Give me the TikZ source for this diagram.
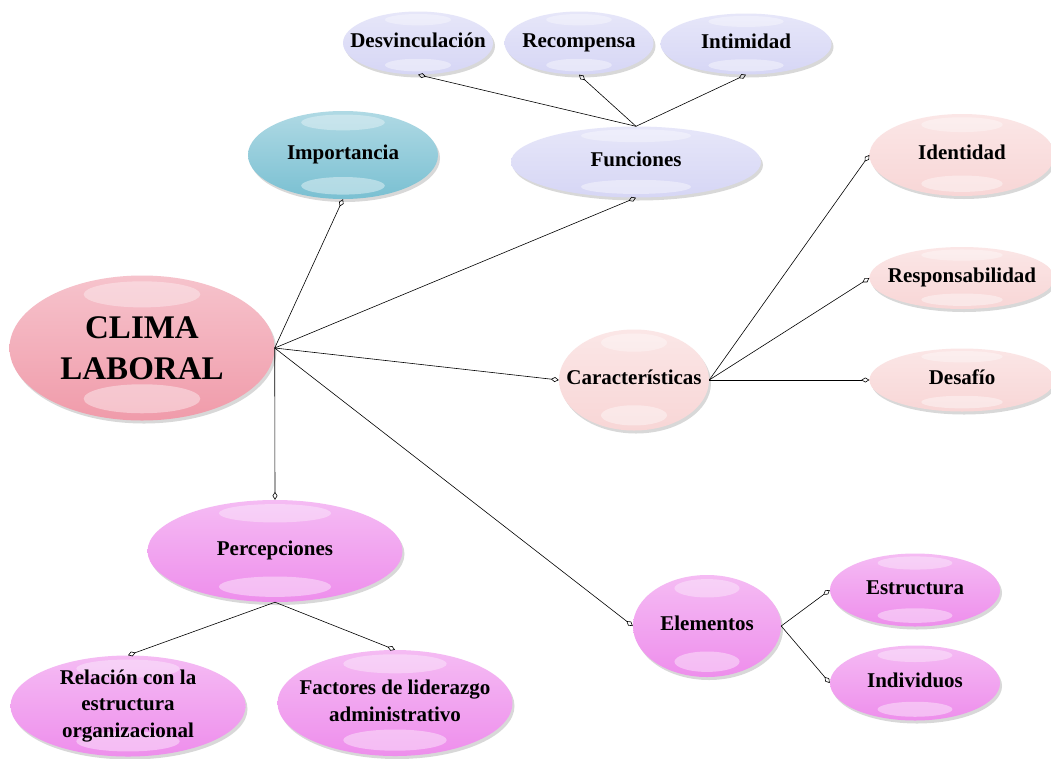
\documentclass[tikz,border=0pt]{standalone}
\usepackage{fontspec}
\setmainfont{Liberation Serif}
\usetikzlibrary{shapes.geometric,shadows,calc,arrows.meta}

\definecolor{climapink}{RGB}{240,155,170}
\definecolor{tealblue}{RGB}{122,192,210}
\definecolor{lavender}{RGB}{214,214,245}
\definecolor{palepink}{RGB}{248,214,214}
\definecolor{orchid}{RGB}{238,142,236}

\tikzset{
  bubble/.style={ellipse, inner sep=0pt, top color=#1!60!white, bottom color=#1,
    drop shadow={shadow xshift=2pt, shadow yshift=-3pt, opacity=.3},
    path picture={
      \fill[white,opacity=.35] let \p1=(path picture bounding box.south west),
        \p2=(path picture bounding box.north east) in
        ({(\x1+\x2)/2},{\y2-0.13*(\y2-\y1)}) ellipse ({0.22*(\x2-\x1)} and {0.09*(\y2-\y1)});
      \fill[white,opacity=.4] let \p1=(path picture bounding box.south west),
        \p2=(path picture bounding box.north east) in
        ({(\x1+\x2)/2},{\y1+0.15*(\y2-\y1)}) ellipse ({0.22*(\x2-\x1)} and {0.1*(\y2-\y1)});
    }},
  txt/.style={font=\fontsize{21}{26.5}\selectfont\bfseries, align=center, text depth=5pt},
  bigtxt/.style={font=\fontsize{33}{41}\selectfont\bfseries, align=center},
  link/.style={line width=.6pt, -{Diamond[open,length=8pt,width=5pt]}}
}

\begin{document}
\begin{tikzpicture}[x=1pt,y=-1pt]
  \useasboundingbox[fill=white] (0,0) rectangle (1051,758);

  % centre
  \node[bubble=climapink, minimum width=265pt, minimum height=145pt,
    label={[bigtxt]center:CLIMA\\LABORAL}] (clima) at (142,348) {};

  % importancia
  \node[bubble=tealblue, minimum width=190pt, minimum height=88pt,
    label={[txt]center:Importancia}] (imp) at (343,155) {};

  % funciones
  \node[bubble=lavender, minimum width=250pt, minimum height=71pt,
    label={[txt]center:Funciones}] (func) at (636,162) {};
  \node[bubble=lavender, minimum width=150pt, minimum height=63pt,
    label={[txt]center:Desvinculación}] (desv) at (418,43) {};
  \node[bubble=lavender, minimum width=149pt, minimum height=63pt,
    label={[txt]center:Recompensa}] (recomp) at (579,43) {};
  \node[bubble=lavender, minimum width=171pt, minimum height=61pt,
    label={[txt]center:Intimidad}] (intim) at (746,44) {};

  % caracteristicas
  \node[bubble=palepink, minimum width=150pt, minimum height=101pt,
    label={[txt]center:Características}] (caract) at (634,380) {};
  \node[bubble=palepink, minimum width=185pt, minimum height=82pt,
    label={[txt]center:Identidad}] (ident) at (962,155) {};
  \node[bubble=palepink, minimum width=185pt, minimum height=62pt,
    label={[txt]center:Responsabilidad}] (resp) at (962,278) {};
  \node[bubble=palepink, minimum width=185pt, minimum height=63pt,
    label={[txt]center:Desafío}] (desaf) at (962,380) {};

  % percepciones
  \node[bubble=orchid, minimum width=255pt, minimum height=102pt,
    label={[txt]center:Percepciones}] (percep) at (275,551) {};
  \node[bubble=orchid, minimum width=235pt, minimum height=101pt,
    label={[txt]center:Relación con la\\estructura\\organizacional}] (relac) at (128,706) {};
  \node[bubble=orchid, minimum width=235pt, minimum height=106pt,
    label={[txt]center:Factores de liderazgo\\administrativo}] (fact) at (395,703) {};

  % elementos
  \node[bubble=orchid, minimum width=148pt, minimum height=102pt,
    label={[txt]center:Elementos}] (elem) at (707,626) {};
  \node[bubble=orchid, minimum width=170pt, minimum height=73pt,
    label={[txt]center:Estructura}] (estr) at (915,590) {};
  \node[bubble=orchid, minimum width=170pt, minimum height=75pt,
    label={[txt]center:Individuos}] (indiv) at (915,683) {};

  % links
  \foreach \t in {imp.south, func.south, caract.west, elem.west, percep.north}
    \draw[link] (clima.east) -- (\t);
  \foreach \t in {desv.south, recomp.south, intim.south}
    \draw[link] (func.north) -- (\t);
  \foreach \t in {ident.west, resp.west, desaf.west}
    \draw[link] (caract.east) -- (\t);
  \foreach \t in {relac.north, fact.north}
    \draw[link] (percep.south) -- (\t);
  \foreach \t in {estr.west, indiv.west}
    \draw[link] (elem.east) -- (\t);
\end{tikzpicture}
\end{document}
